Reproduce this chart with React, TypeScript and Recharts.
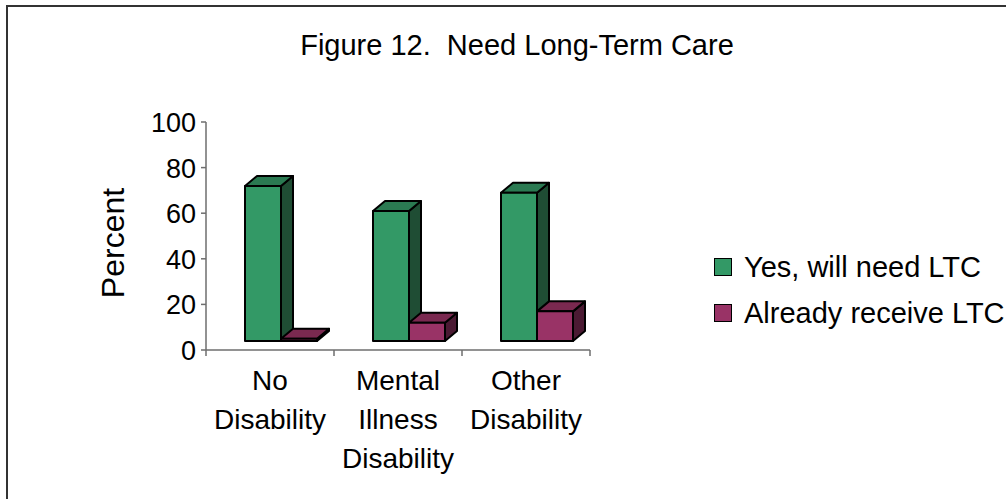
import { BarChart, Bar, XAxis, YAxis, Legend } from "recharts";

// Excel-style 3D column chart, redrawn with custom bar shapes.

const categories = ["No\nDisability", "Mental\nIllness\nDisability", "Other\nDisability"];
const willNeedLtc = [68, 57, 65];
const alreadyReceiveLtc = [1, 8, 13];
const yTicks = [0, 20, 40, 60, 80, 100];
const seriesNames = ["Yes, will need LTC", "Already receive LTC"];

const FONT = '"Liberation Sans", Arial, sans-serif';
const AXIS = "#6e6e6e";

const W = 1006;
const H = 499;
const MARGIN = { top: 122, right: 416, bottom: 29, left: 146 };
const Y_AXIS_W = 60;
const PLOT_W = W - MARGIN.left - MARGIN.right - Y_AXIS_W;
const BAND = PLOT_W / categories.length;

// depth of each column and how far the column row sits behind the axis plane
const DEPTH = { dx: 12, dy: -10 };
const SHIFT = { dx: 11, dy: -9 };

const COLORS = [
  { front: "#339966", top: "#2b7a52", side: "#1f4d34" },
  { front: "#993366", top: "#7a2950", side: "#4b1a33" },
];

const data = categories.map((category, i) => ({
  category,
  willNeed: willNeedLtc[i],
  already: alreadyReceiveLtc[i],
}));

function makeColumn(c: { front: string; top: string; side: string }) {
  return function Column(props: any) {
    const { x, y, width, height } = props;
    if (x == null || y == null) return null;
    const fx = x + SHIFT.dx;
    const fy = y + SHIFT.dy;
    const { dx, dy } = DEPTH;
    const topFace = `${fx},${fy} ${fx + dx},${fy + dy} ${fx + width + dx},${fy + dy} ${fx + width},${fy}`;
    const sideFace = `${fx + width},${fy} ${fx + width + dx},${fy + dy} ${fx + width + dx},${fy + height + dy} ${fx + width},${fy + height}`;
    return (
      <g stroke="#000" strokeWidth={2} strokeLinejoin="round">
        <polygon points={sideFace} fill={c.side} />
        <polygon points={topFace} fill={c.top} />
        <rect x={fx} y={fy} width={width} height={Math.max(height, 0)} fill={c.front} />
      </g>
    );
  };
}

const GreenColumn = makeColumn(COLORS[0]);
const PurpleColumn = makeColumn(COLORS[1]);

function ValueTick({ x, y, payload }: any) {
  return (
    <text x={x} y={y + 10} textAnchor="end" fontFamily={FONT} fontSize={27} fill="#000">
      {payload.value}
    </text>
  );
}

function CategoryTick({ x, y, payload, index }: any) {
  const lines = String(payload.value).split("\n");
  const half = BAND / 2;
  return (
    <g>
      <line x1={x - half} x2={x - half} y1={y} y2={y + 6} stroke={AXIS} strokeWidth={1.5} />
      {index === categories.length - 1 && (
        <line x1={x + half} x2={x + half} y1={y} y2={y + 6} stroke={AXIS} strokeWidth={1.5} />
      )}
      <text textAnchor="middle" fontFamily={FONT} fontSize={28} fill="#000">
        {lines.map((l, i) => (
          <tspan key={i} x={x} y={y + 40 + i * 39}>
            {l}
          </tspan>
        ))}
      </text>
    </g>
  );
}

function PercentLabel({ viewBox }: any) {
  const cx = viewBox.x - 22;
  const cy = viewBox.y + viewBox.height / 2 + 7;
  return (
    <text
      transform={`translate(${cx},${cy}) rotate(-90)`}
      textAnchor="middle"
      fontFamily={FONT}
      fontSize={32}
      fill="#000"
    >
      Percent
    </text>
  );
}

function LegendBox() {
  return (
    <div style={{ fontFamily: FONT, fontSize: 29, color: "#000" }}>
      {seriesNames.map((name, i) => (
        <div key={name} style={{ display: "flex", alignItems: "center", height: 46, lineHeight: "46px", whiteSpace: "nowrap" }}>
          <span
            style={{
              display: "inline-block",
              width: 16,
              height: 16,
              background: COLORS[i].front,
              border: "1.5px solid #000",
              marginRight: 12,
            }}
          />
          {name}
        </div>
      ))}
    </div>
  );
}

export default function App() {
  return (
    <div style={{ position: "relative", width: W, height: H, overflow: "hidden", background: "#fff" }}>
      <style>{"body{margin:0}"}</style>
      <div
        style={{
          position: "absolute",
          left: 6,
          top: 5,
          width: W,
          height: H,
          borderLeft: "2px solid #333",
          borderTop: "2px solid #333",
        }}
      />
      <div
        style={{
          position: "absolute",
          left: 217,
          top: 31,
          width: 600,
          textAlign: "center",
          fontFamily: FONT,
          fontSize: 29,
          lineHeight: 1,
          whiteSpace: "pre",
        }}
      >
        {"Figure 12.  Need Long-Term Care"}
      </div>
      <div style={{ position: "absolute", left: 0, top: 0 }}>
        <BarChart width={W} height={H} data={data} margin={MARGIN} barGap={0} barCategoryGap={28}>
          <XAxis
            dataKey="category"
            height={120}
            axisLine={{ stroke: AXIS, strokeWidth: 1.5 }}
            tickLine={false}
            tickSize={0}
            tickMargin={0}
            tick={<CategoryTick />}
            interval={0}
          />
          <YAxis
            width={Y_AXIS_W}
            domain={[0, 100]}
            ticks={yTicks}
            interval={0}
            axisLine={{ stroke: AXIS, strokeWidth: 1.5 }}
            tickLine={{ stroke: AXIS, strokeWidth: 1.5 }}
            tickSize={5}
            tickMargin={5}
            tick={<ValueTick />}
            label={<PercentLabel />}
          />
          <Legend
            layout="vertical"
            align="center"
            verticalAlign="middle"
            wrapperStyle={{ left: 714, top: 244, width: 292 }}
            content={<LegendBox />}
          />
          <Bar dataKey="willNeed" name={seriesNames[0]} shape={<GreenColumn />} isAnimationActive={false} />
          <Bar dataKey="already" name={seriesNames[1]} shape={<PurpleColumn />} isAnimationActive={false} />
        </BarChart>
      </div>
    </div>
  );
}
